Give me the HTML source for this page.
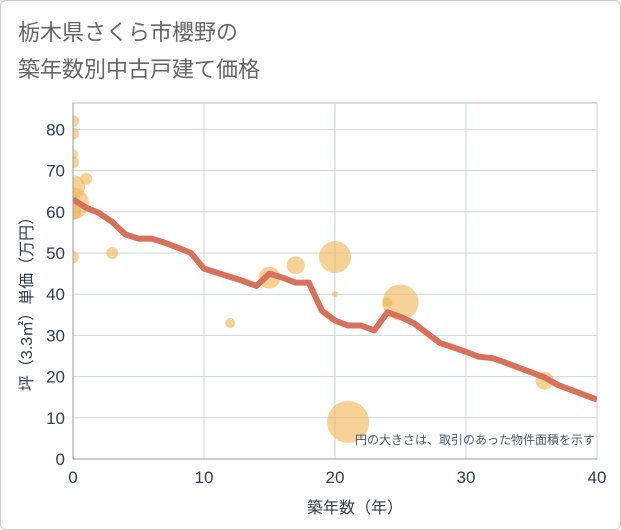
<!DOCTYPE html>
<html><head><meta charset="utf-8"><style>
body{margin:0;background:#fff;}
.wrap{position:relative;width:619px;height:528px;border:1px solid #ccc;border-radius:6px;background:#fff;}
svg text{font-family:"Liberation Sans","Noto Sans CJK JP",sans-serif;}
</style></head><body>
<div class="wrap">
<svg id="c" width="621" height="530" style="position:absolute;left:-1px;top:-1px">
<defs><clipPath id="pc"><rect x="73" y="103" width="524" height="356"/></clipPath></defs>
<text x="18" y="40" font-size="22" fill="#666">栃木県さくら市櫻野の</text>
<text x="18" y="77" font-size="22" fill="#666">築年数別中古戸建て価格</text>
<g id="grid"></g><g id="bub" clip-path="url(#pc)"></g><g id="ln" clip-path="url(#pc)"></g><g id="ax"></g>
<text x="595" y="444" font-size="12" fill="#4a5a6a" text-anchor="end">円の大きさは、取引のあった物件面積を示す</text>
<text x="355" y="513" font-size="16" fill="#2c3e50" text-anchor="middle">築年数（年）</text>
<text transform="translate(32,300) rotate(-90)" font-size="16" fill="#2c3e50" text-anchor="middle">坪（3.3㎡）単価（万円）</text>
</svg></div>
<script>
const xTicks=[0,10,20,30,40];
const yTicks=[0,10,20,30,40,50,60,70,80];
const lineYears=[0,1,2,3,4,5,6,7,8,9,10,11,12,13,14,15,16,17,18,19,20,21,22,23,24,25,26,27,28,29,30,31,32,33,34,35,36,37,38,39,40];
const linePrices=[63,61,59.7,57.5,54.5,53.5,53.5,52.5,51.3,50,46.2,45.2,44.2,43.2,42,45,44,42.8,42.8,36,33.6,32.4,32.4,31.2,35.6,34.5,33,30.6,28.2,27.1,26,24.8,24.5,23.4,22.2,21,19.8,18,16.8,15.6,14.4];
const bubYears=[0,0,0,0,0,1,0,0,0,3,12,15,17,20,20,21,24,25,36];
const bubPrices=[82,79,74,72,66,68,62,60,49,50,33,44,47,49,40,9,38,38,19];
const bubSizes=[6,6,5,6,12,6,16,8,6,6,5,11,9,16,3,21,5,18,9];
const L=73,R=597,T=103,B=459;
const sx=v=>L+(R-L)*v/40, sy=v=>B-v*4.12;
const NS="http://www.w3.org/2000/svg";
function mk(p,tag,a){const e=document.createElementNS(NS,tag);for(const k in a)e.setAttribute(k,a[k]);document.getElementById(p).appendChild(e);return e;}
let e=mk('grid','rect',{x:L,y:T,width:R-L,height:B-T,fill:'none',stroke:'#bbb'});


yTicks.forEach(v=>{let g=mk('grid','line',{x1:L,x2:R,y1:sy(v),y2:sy(v),stroke:'#c9d6e3'});


let t=mk('ax','text',{x:L-8,y:sy(v)+6,'font-size':17,fill:'#2c3e50','text-anchor':'end'});t.textContent=v;

});
xTicks.forEach(v=>{let g=mk('grid','line',{x1:sx(v),x2:sx(v),y1:T,y2:B,stroke:'#c9d6e3'});


let t=mk('ax','text',{x:sx(v),y:B+24,'font-size':17,fill:'#2c3e50','text-anchor':'middle'});t.textContent=v;

});
let a=mk('ax','line',{x1:L,x2:L,y1:T,y2:B,stroke:'#999'});


a=mk('ax','line',{x1:L,x2:R,y1:B,y2:B,stroke:'#999'});


bubYears.forEach((y,i)=>{let c=mk('bub','circle',{cx:sx(y),cy:sy(bubPrices[i]),r:bubSizes[i],fill:'rgba(240,180,80,0.6)'});

});
let p=mk('ln','polyline',{points:lineYears.map((y,i)=>sx(y)+','+sy(linePrices[i])).join(' '),fill:'none',stroke:'#d9705a','stroke-width':6,'stroke-linejoin':'round'});


</script></body></html>
